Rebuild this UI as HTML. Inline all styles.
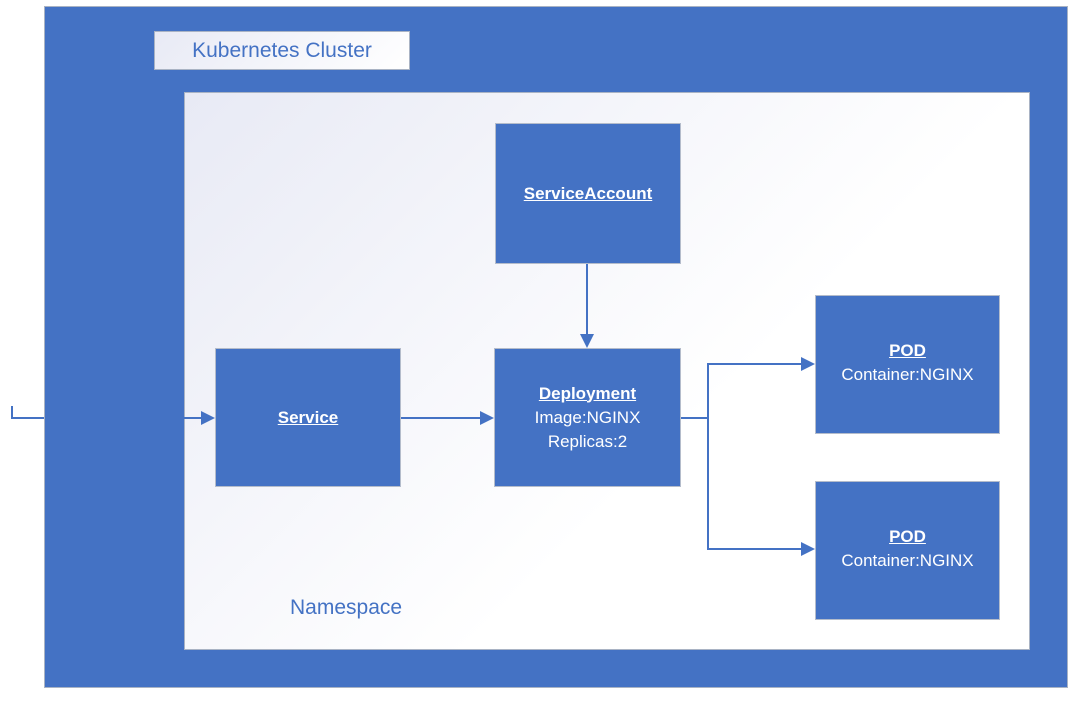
<!DOCTYPE html>
<html><head><meta charset="utf-8"><style>
body{margin:0;width:1077px;height:702px;background:#fff;position:relative;overflow:hidden;font-family:"Liberation Sans",sans-serif}
.a{position:absolute;box-sizing:border-box}
.box{position:absolute;box-sizing:border-box;background:#4472c4;border:1px solid #b4bccb;color:#fff;font-size:17px;text-align:center;line-height:24px;display:flex;flex-direction:column;justify-content:center}
.box b{text-decoration:underline}
</style></head><body>
<div class="a" style="left:44px;top:6px;width:1024px;height:682px;background:#4472c4;border:1px solid #a9b3c4"></div>
<div class="a" style="left:154px;top:31px;width:256px;height:39px;background:linear-gradient(135deg,#e8eaf5,#fff);border:1px solid #a9b3c4;color:#4472c4;font-size:21px;text-align:center;line-height:37px">Kubernetes Cluster</div>
<div class="a" style="left:184px;top:92px;width:846px;height:558px;background:linear-gradient(135deg,#e8eaf5,#fff 60%);border:1px solid #a9b3c4"></div>
<div class="a" style="left:290px;top:596px;color:#4472c4;font-size:21px">Namespace</div>
<svg class="a" style="left:0;top:0" width="1077" height="702">
<g stroke="#4472c4" stroke-width="2" fill="none">
<path d="M12 406V418H44"/><path d="M184 418H203"/>
<path d="M401 418H482"/><path d="M587 264V336"/>
<path d="M681 418H708V364H803M708 418V549H803"/>
</g>
<g fill="#4472c4">
<path d="M215 418l-14-7v14z"/><path d="M494 418l-14-7v14z"/>
<path d="M587 348l-7-14h14z"/><path d="M815 364l-14-7v14z"/><path d="M815 549l-14-7v14z"/>
</g></svg>
<div class="box" style="left:495px;top:123px;width:186px;height:141px"><b>ServiceAccount</b></div>
<div class="box" style="left:215px;top:348px;width:186px;height:139px"><b>Service</b></div>
<div class="box" style="left:494px;top:348px;width:187px;height:139px"><b>Deployment</b><span>Image:NGINX</span><span>Replicas:2</span></div>
<div class="box" style="left:815px;top:295px;width:185px;height:139px;justify-content:flex-start;padding-top:43px"><b>POD</b><span>Container:NGINX</span></div>
<div class="box" style="left:815px;top:481px;width:185px;height:139px;justify-content:flex-start;padding-top:43px"><b>POD</b><span>Container:NGINX</span></div>
</body></html>
